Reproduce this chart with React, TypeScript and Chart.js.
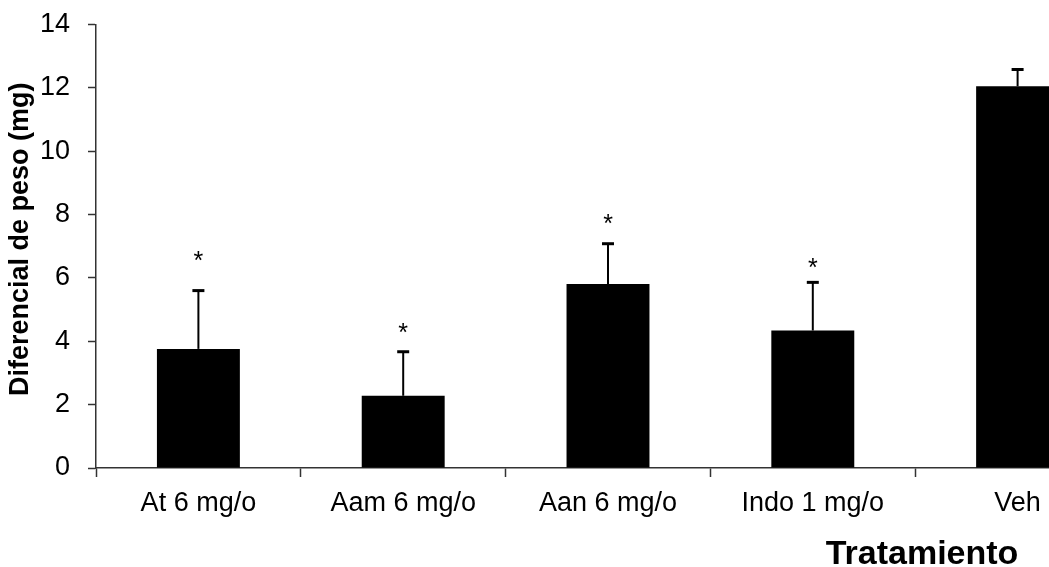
import React, { useEffect, useRef } from 'react';
import { Chart, registerables } from 'chart.js';

Chart.register(...registerables);

const categories = ['At 6 mg/o', 'Aam 6 mg/o', 'Aan 6 mg/o', 'Indo 1 mg/o', 'Veh'];
const means = [3.76, 2.28, 5.81, 4.34, 12.05];
const errors = [1.84, 1.39, 1.27, 1.52, 0.53];
const asteriskLevels: (number | null)[] = [6.67, 4.39, 7.82, 6.45, null];
const yMin = 0;
const yMax = 14;
const yStep = 2;
const yTitle = 'Diferencial de peso (mg)';
const xTitle = 'Tratamiento';

const FONT = '"Liberation Sans", Arial, sans-serif';
const AXIS = '#333333';

const errorBarPlugin = {
  id: 'errorBarsAndMarks',
  afterDatasetsDraw(chart: any) {
    const { ctx } = chart;
    const y = chart.scales.y;
    const meta = chart.getDatasetMeta(0);
    ctx.save();
    meta.data.forEach((bar: any, i: number) => {
      const xc = bar.x;
      const yBase = y.getPixelForValue(means[i]);
      const yTop = y.getPixelForValue(means[i] + errors[i]);
      ctx.strokeStyle = '#000';
      ctx.lineWidth = 2;
      ctx.beginPath();
      ctx.moveTo(xc, yBase);
      ctx.lineTo(xc, yTop);
      ctx.stroke();
      ctx.lineWidth = 3;
      ctx.beginPath();
      ctx.moveTo(xc - 6, yTop);
      ctx.lineTo(xc + 6, yTop);
      ctx.stroke();
      const a = asteriskLevels[i];
      if (a !== null) {
        ctx.fillStyle = '#000';
        ctx.font = `25px ${FONT}`;
        ctx.textAlign = 'center';
        ctx.textBaseline = 'alphabetic';
        ctx.fillText('*', xc, y.getPixelForValue(a) + 12);
      }
    });
    ctx.restore();
  },
  afterDraw(chart: any) {
    const { ctx, chartArea } = chart;
    ctx.save();
    ctx.fillStyle = '#000';
    ctx.font = `bold 34px ${FONT}`;
    ctx.textAlign = 'center';
    ctx.textBaseline = 'alphabetic';
    ctx.fillText(xTitle, 922, 564);
    ctx.translate(21, (chartArea.top + chartArea.bottom) / 2 - 7);
    ctx.rotate(-Math.PI / 2);
    ctx.font = `bold 27px ${FONT}`;
    ctx.textBaseline = 'middle';
    ctx.fillText(yTitle, 0, 0);
    ctx.restore();
  },
};

export default function App() {
  const ref = useRef<HTMLCanvasElement | null>(null);
  useEffect(() => {
    if (!ref.current) return;
    const chart = new Chart(ref.current, {
      type: 'bar',
      data: {
        labels: categories,
        datasets: [
          {
            data: means,
            backgroundColor: '#000',
            borderWidth: 0,
            barPercentage: 0.405,
            categoryPercentage: 1,
          },
        ],
      },
      options: {
        responsive: false,
        animation: false,
        layout: { padding: { left: 0, top: 24.5, right: 10, bottom: 0 } },
        plugins: { legend: { display: false }, tooltip: { enabled: false } },
        scales: {
          x: {
            type: 'category',
            offset: true,
            grid: {
              display: true,
              drawOnChartArea: false,
              drawTicks: true,
              tickLength: 9,
              tickWidth: 1.5,
              color: AXIS,
              offset: true,
            },
            border: { display: true, color: AXIS, width: 1.5 },
            ticks: { color: '#000', font: { family: FONT, size: 27 }, padding: 10, maxRotation: 0, autoSkip: false },
            afterFit: (s: any) => {
              s.height = 99;
              s.paddingLeft = 0;
              s.paddingRight = 0;
            },
          },
          y: {
            min: yMin,
            max: yMax,
            grid: {
              display: true,
              drawOnChartArea: false,
              drawTicks: true,
              tickLength: 8,
              tickWidth: 1.5,
              color: AXIS,
            },
            border: { display: true, color: AXIS, width: 1.5 },
            ticks: { stepSize: yStep, color: '#000', font: { family: FONT, size: 27 }, padding: 18 },
            afterFit: (s: any) => {
              s.width = 96;
              s.paddingTop = 0;
              s.paddingBottom = 0;
            },
          },
        },
      },
      plugins: [errorBarPlugin],
    });
    return () => chart.destroy();
  }, []);
  return (
    <div style={{ position: 'absolute', left: 0, top: 0, width: 1049, height: 567, overflow: 'hidden', background: '#fff' }}>
      <canvas ref={ref} width={1130} height={567} style={{ display: 'block' }} />
    </div>
  );
}
